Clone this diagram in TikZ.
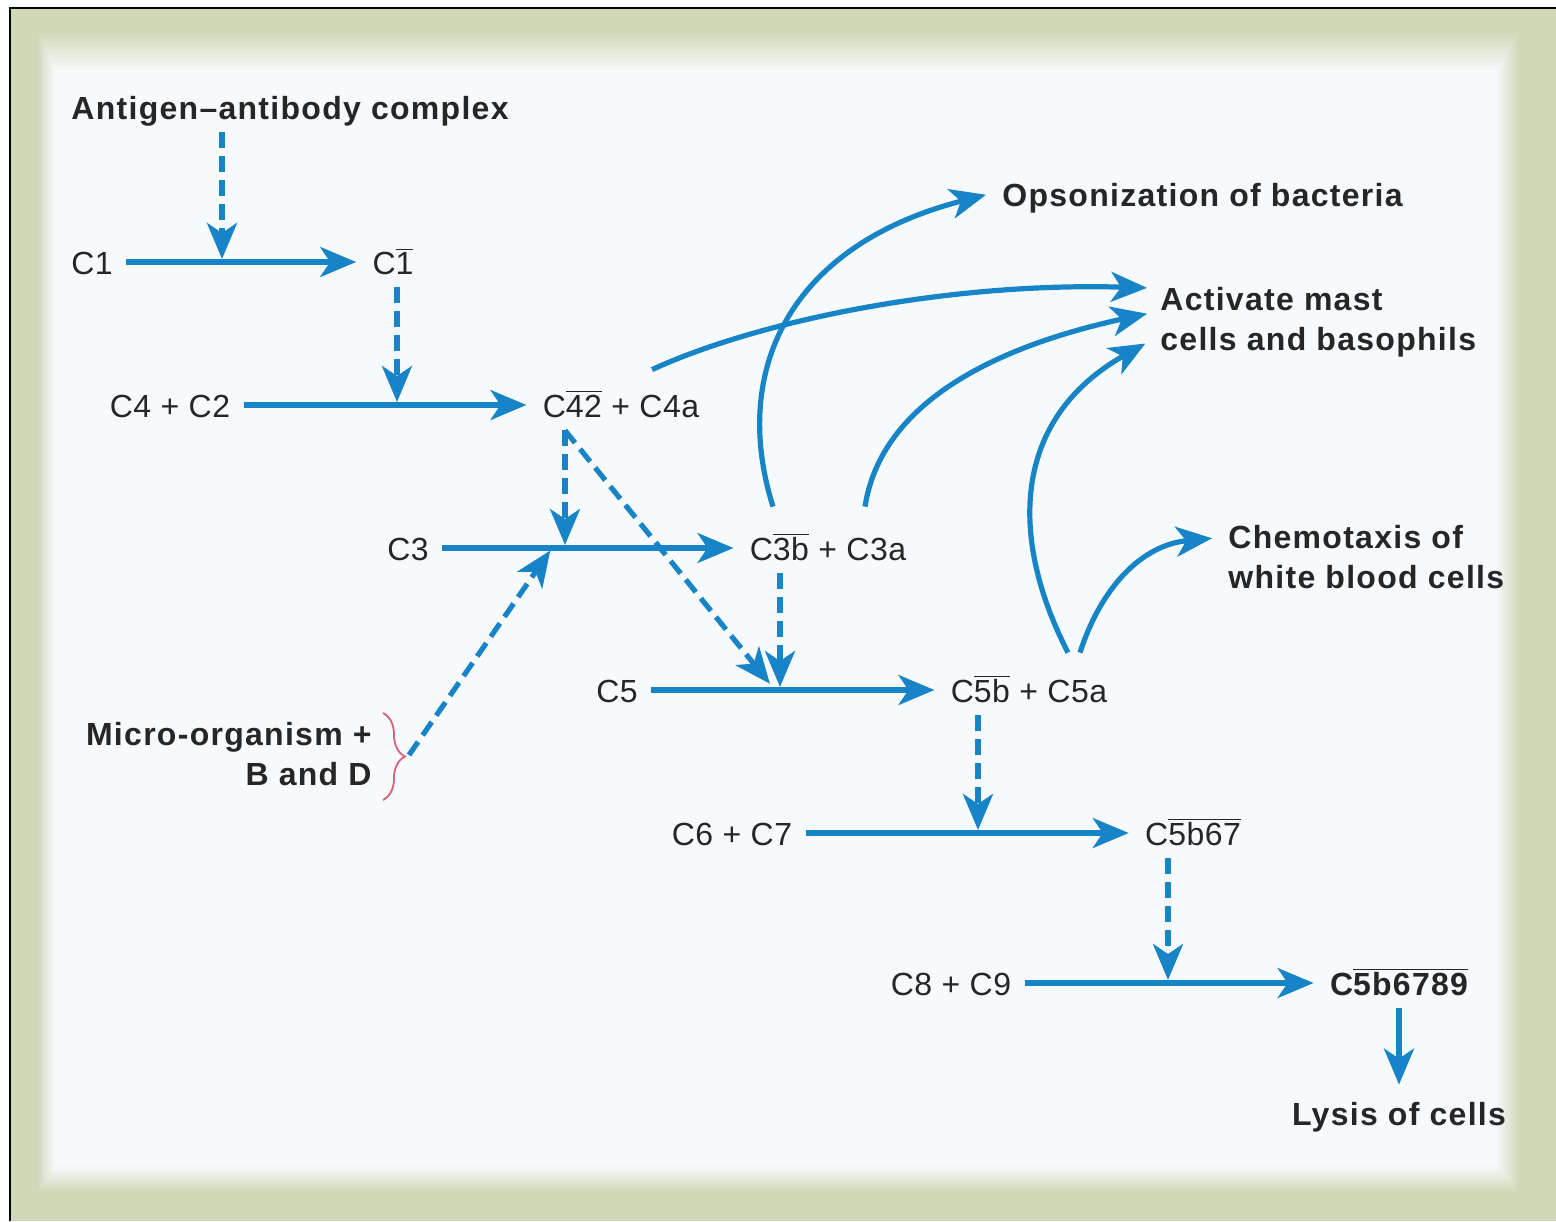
\documentclass[tikz,border=0pt]{standalone}
\usepackage{fontspec}
\setmainfont{Liberation Sans}[LetterSpace=1.5,BoldFeatures={LetterSpace=4}]
\usetikzlibrary{arrows.meta,calc,decorations.pathreplacing}
\definecolor{flowblue}{RGB}{24,132,200}
\definecolor{ink}{RGB}{38,38,38}
\definecolor{bordergreen}{RGB}{207,217,184}
\definecolor{panel}{RGB}{246,250,252}
\definecolor{bracered}{RGB}{214,96,118}
\newcommand{\barred}[1]{$\overline{\mbox{#1}}$}
\tikzset{
  comp/.style={text=ink, inner sep=6.5pt, text height=12pt, text depth=0pt},
  effect/.style={text=ink, inner sep=6.5pt, font=\bfseries},
  flow/.style={draw=flowblue, line width=2.6pt,
    -{Stealth[length=18pt,width=15pt,inset=5pt]}, shorten >=1.5pt},
  trigger/.style={flow, dash pattern=on 8pt off 4pt}
}
\begin{document}
\fontsize{16}{20}\selectfont
\begin{tikzpicture}[x=0.5pt,y=-0.5pt]
\useasboundingbox (0,0) rectangle (1556,1221);
%% panel with faded border
\fill[bordergreen] (10,8) rectangle (1556,1221);
\foreach \k [evaluate=\k as \p using int(10*\k)] in {0,...,10}
  \fill[panel!\p!bordergreen] (37+1.8*\k,30+4*\k) rectangle (1520-2.3*\k,1193-2.6*\k);
\draw[line width=1pt] (10,1221) -- (10,8) -- (1556,8);
%% the cascade
\node[comp,font=\bfseries] (ag) at (290,107) {Antigen–antibody complex};
\node[comp] (c1) at (92,262) {C1};
\node[comp] (c1b) at (393,262) {C\barred{1}};
\node[comp] (c4c2) at (170,405) {C4 + C2};
\node[comp] (c42) at (621,405) {C\barred{42} + C4a};
\node[comp] (c3) at (408,548) {C3};
\node[comp] (c3b) at (828,548) {C\barred{3b} + C3a};
\node[comp] (c5) at (617,690) {C5};
\node[comp] (c5b) at (1029,690) {C\barred{5b} + C5a};
\node[comp] (c6c7) at (732,833) {C6 + C7};
\node[comp] (c5b67) at (1193,833) {C\barred{5b67}};
\node[comp] (c8c9) at (951,983) {C8 + C9};
\node[comp,font=\bfseries] (mac) at (1399,983) {C\barred{5b6789}};
%% what the products do
\node[comp,font=\bfseries,anchor=west] (opson) at (989,194) {Opsonization of bacteria};
\node[effect,align=left,anchor=west] (mast) at (1147,322) {Activate mast\\cells and basophils};
\node[effect,align=left,anchor=west] (chemo) at (1215,557) {Chemotaxis of\\white blood cells};
\node[comp,font=\bfseries] (lysis) at (1399,1113) {Lysis of cells};
\node[effect,align=right,anchor=east] (micro) at (385,754) {Micro-organism +\\B and D};
\draw[bracered, line width=0.9pt, decorate, decoration={brace,amplitude=11pt}]
  (383,713) -- (383,800);
\coordinate (bt) at (409,755);
%% where the dashed arrows meet the reactions
\coordinate (j1) at (222,262);
\coordinate (j2) at (397,405);
\coordinate (j3) at (565,548);
\coordinate (j4) at (775,690);
\coordinate (j5) at (552,548);
\coordinate (j6) at (780,690);
\coordinate (j7) at (978,833);
\coordinate (j8) at (1168,983);
%% reactions
\draw[flow] (c1) -- (c1b);
\draw[flow] (c4c2) -- (c42);
\draw[flow] (c3) -- (c3b);
\draw[flow] (c5) -- (c5b);
\draw[flow] (c6c7) -- (c5b67);
\draw[flow] (c8c9) -- (mac);
\draw[flow] (mac) -- (lysis);
%% activation
\draw[trigger] (ag.south -| j1) -- (j1);
\draw[trigger] (c1b.south -| j2) -- (j2);
\draw[trigger] (c42.south -| j3) -- (j3);
\draw[trigger, shorten >=4pt] (c42.south -| j3) -- (j4);
\draw[trigger] (bt) -- (j5);
\draw[trigger] (c3b.south -| j6) -- (j6);
\draw[trigger] (c5b.south -| j7) -- (j7);
\draw[trigger] (c5b67.south -| j8) -- (j8);
%% effects
\draw[flow] ($(c42.north)+(31,-10)$) .. controls (760,320) and (950,282) .. ($(mast.west)+(3,-34)$);
\draw[flow] ($(c3b.north)+(-55,-16)$) .. controls (730,370) and (790,245) .. (opson.west);
\draw[flow] ($(c3b.north)+(37,-16)$) .. controls (880,410) and (980,350) .. ($(mast.west)+(3,-9)$);
\draw[flow] ($(c5b.north)+(39,-12)$) .. controls (1010,540) and (1010,420) .. ($(mast.west)+(1,20)$);
\draw[flow] ($(c5b.north)+(51,-12)$) .. controls (1100,590) and (1140,545) .. ($(chemo.west)+(0,-19)$);
\end{tikzpicture}
\end{document}
